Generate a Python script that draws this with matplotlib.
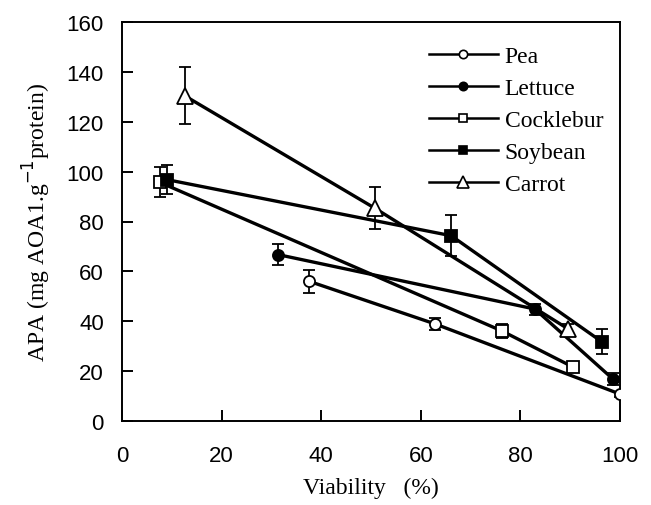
import matplotlib.pyplot as plt

# viability (%) and APA values
pea_x = [37.6, 62.9, 100.0]
pea_y = [56.0, 38.9, 10.8]
pea_err = [4.7, 2.6, 1.0]

lettuce_x = [31.4, 82.9, 98.6]
lettuce_y = [66.7, 44.9, 16.8]
lettuce_err = [4.2, 2.2, 2.5]

cocklebur_x = [7.6, 76.3, 90.6]
cocklebur_y = [95.7, 36.1, 21.6]
cocklebur_err = [6.0, 2.8, 2.0]

soybean_x = [9.0, 66.1, 96.4]
soybean_y = [96.8, 74.3, 31.7]
soybean_err = [5.8, 8.3, 5.0]

carrot_x = [12.6, 50.8, 89.6]
carrot_y = [130.4, 85.3, 36.9]
carrot_err = [11.4, 8.5, 2.0]

serif = "Liberation Serif"
sans = "Liberation Sans"

fig = plt.figure(figsize=(6.51, 5.06), dpi=100)
ax = fig.add_axes([122 / 651, 1 - 422 / 506, 498 / 651, 399 / 506])

series = [
    ("Pea", pea_x, pea_y, pea_err, "o", "white"),
    ("Lettuce", lettuce_x, lettuce_y, lettuce_err, "o", "black"),
    ("Cocklebur", cocklebur_x, cocklebur_y, cocklebur_err, "s", "white"),
    ("Soybean", soybean_x, soybean_y, soybean_err, "s", "black"),
    ("Carrot", carrot_x, carrot_y, carrot_err, "^", "white"),
]

handles = []
for name, x, y, e, m, fc in series:
    ax.errorbar(x, y, yerr=e, fmt="none", ecolor="black", elinewidth=1.3,
                capsize=4, capthick=1.3, zorder=2)
    ax.plot(x, y, color="black", lw=2.4, zorder=3)
    ax.plot(x, y, ls="none", marker=m, ms=8 if m != "^" else 11,
            mfc=fc, mec="black", mew=1.3, zorder=4)
    h, = ax.plot([], [], color="black", lw=1.8, marker=m,
                 ms=6 if m != "^" else 8, mfc=fc, mec="black", mew=1.2)
    handles.append(h)

ax.legend(handles, [s[0] for s in series], loc="upper left",
          bbox_to_anchor=(0.574, 0.995), frameon=False, handlelength=2.9,
          handletextpad=0.3, labelspacing=0.45,
          prop={"family": serif, "size": 17})

ax.set_xlim(0, 100)
ax.set_ylim(0, 160)
ax.set_xticks(range(0, 101, 20))
ax.set_yticks(range(0, 161, 20))
ax.tick_params(direction="in", length=8, width=1.4, labelsize=16)
ax.tick_params(axis="x", pad=17)
ax.tick_params(axis="y", pad=13)
for lab in ax.get_xticklabels() + ax.get_yticklabels():
    lab.set_family(sans)
for s in ax.spines.values():
    s.set_linewidth(1.4)

ax.set_xlabel("Viability   (%)", family=serif, size=17, labelpad=8)
ax.set_ylabel("APA (mg AOA1.g$^{-1}$protein)", family=serif, size=17,
              labelpad=10)

fig.savefig("out.png", dpi=100)
